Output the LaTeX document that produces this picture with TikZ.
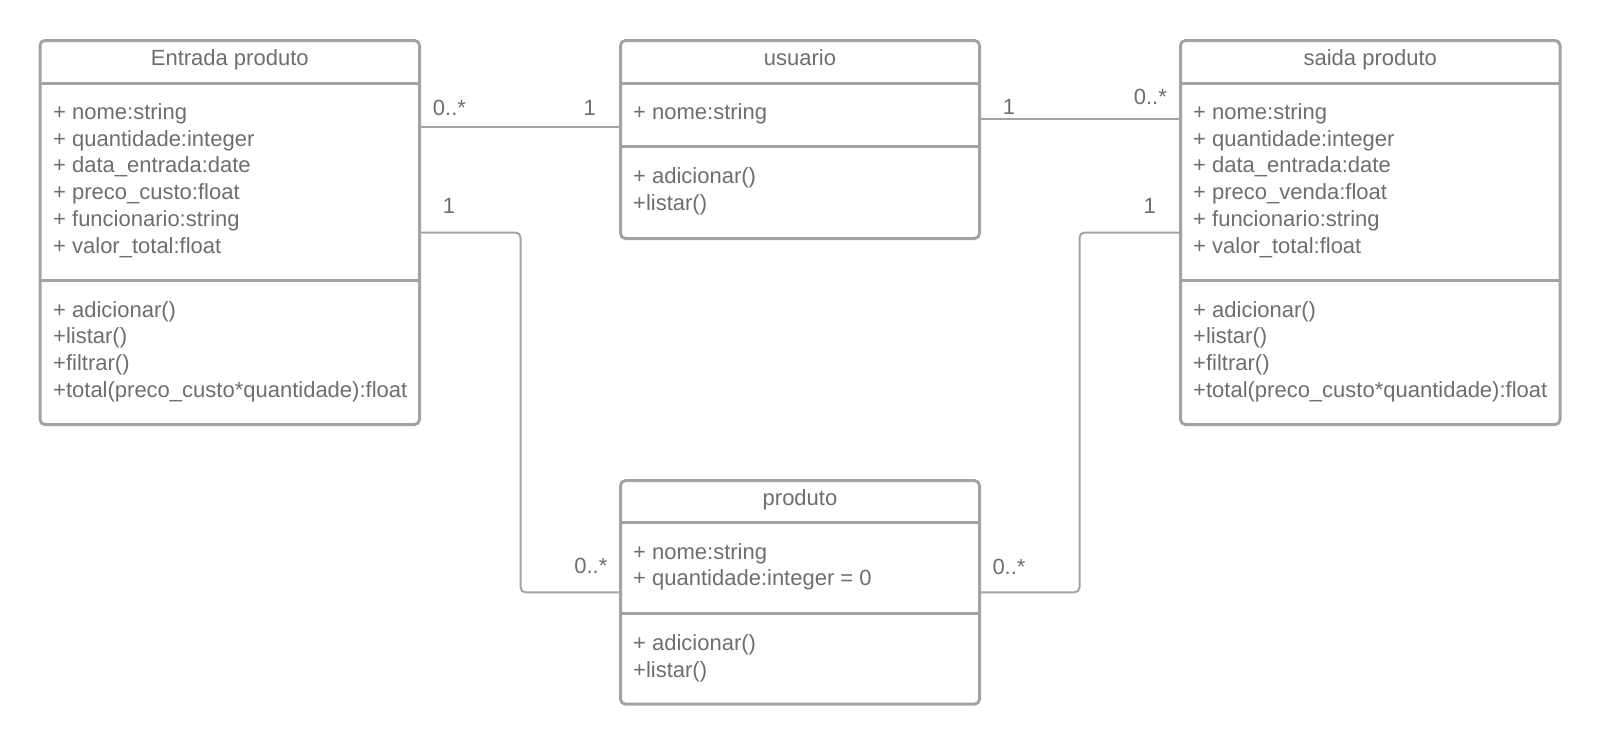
\documentclass[tikz,border=0pt]{standalone}
\usepackage{fontspec}
\setmainfont{Liberation Sans}
\usetikzlibrary{positioning, calc}
\definecolor{umlline}{RGB}{163,163,163}
\definecolor{umltext}{RGB}{110,110,110}

\begin{document}
\begin{tikzpicture}[
    x=1pt, y=-1pt,
    classbox/.style={rectangle, draw=umlline, line width=3pt, rounded corners=5pt, anchor=north west, inner sep=0pt, outer sep=0pt},
    divider/.style={draw=umlline, line width=3pt},
    classname/.style={anchor=base, text=umltext, font=\fontsize{22}{26.7}\selectfont, inner sep=0pt},
    members/.style={anchor=base west, align=left, text=umltext, font=\fontsize{22}{26.7}\selectfont, inner sep=0pt},
    mult/.style={anchor=base, text=umltext, font=\fontsize{22}{26.7}\selectfont, inner sep=0pt},
    assoc/.style={draw=umlline, line width=2pt, rounded corners=5pt}
]
\useasboundingbox (0,0) rectangle (1600,744);

% Class boxes
\node[classbox, minimum width=379.5pt, minimum height=384pt] (entrada) at (40,40.5) {};
\node[classbox, minimum width=359pt, minimum height=198pt] (usuario) at (620.5,40.5) {};
\node[classbox, minimum width=379.5pt, minimum height=384pt] (saida) at (1180.5,40.5) {};
\node[classbox, minimum width=359pt, minimum height=223.5pt] (produto) at (620.5,480.6) {};

% Compartments
\draw[divider] (40,83) -- (419.5,83);
\draw[divider] (40,280.5) -- (419.5,280.5);
\draw[divider] (620.5,83) -- (979.5,83);
\draw[divider] (620.5,146.7) -- (979.5,146.7);
\draw[divider] (1180.5,83) -- (1560,83);
\draw[divider] (1180.5,280.5) -- (1560,280.5);
\draw[divider] (620.5,522.4) -- (979.5,522.4);
\draw[divider] (620.5,613.8) -- (979.5,613.8);

% Entrada produto (member blocks sit on their last line)
\node[classname] (entrada-name) at (229.75,65.5) {Entrada produto};
\node[members] (entrada-attr) at (53,253) {+ nome:string\\+ quantidade:integer\\+ data\_entrada:date\\+ preco\_custo:float\\+ funcionario:string\\+ valor\_total:float};
\node[members] (entrada-ops) at (53,397.1) {+ adicionar()\\+listar()\\+filtrar()\\+total(preco\_custo*quantidade):float};

% usuario
\node[classname] (usuario-name) at (800,65.5) {usuario};
\node[members] (usuario-attr) at (633,119.5) {+ nome:string};
\node[members] (usuario-ops) at (633,210) {+ adicionar()\\+listar()};

% saida produto
\node[classname] (saida-name) at (1370.25,65.5) {saida produto};
\node[members] (saida-attr) at (1193,253) {+ nome:string\\+ quantidade:integer\\+ data\_entrada:date\\+ preco\_venda:float\\+ funcionario:string\\+ valor\_total:float};
\node[members] (saida-ops) at (1193,397.1) {+ adicionar()\\+listar()\\+filtrar()\\+total(preco\_custo*quantidade):float};

% produto
\node[classname] (produto-name) at (800,505.2) {produto};
\node[members] (produto-attr) at (633,585.9) {+ nome:string\\+ quantidade:integer = 0};
\node[members] (produto-ops) at (633,677) {+ adicionar()\\+listar()};

% Associations
\draw[assoc] (entrada.east |- 0,127) -- (usuario.west |- 0,127);
\draw[assoc] (usuario.east |- 0,119) -- (saida.west |- 0,119);
\draw[assoc] (entrada.east) -| (520.5,0 |- produto.west) -- (produto.west);
\draw[assoc] (saida.west) -| (1079.5,0 |- produto.east) -- (produto.east);

% Multiplicities
\node[mult] (m-entrada-u) at (449.5,115) {0..*};
\node[mult] (m-usuario-e) at (589.8,115) {1};
\node[mult] (m-usuario-s) at (1009,114.8) {1};
\node[mult] (m-saida-u) at (1150.3,104.8) {0..*};
\node[mult] (m-entrada-p) at (449,213.6) {1};
\node[mult] (m-produto-e) at (590.8,573.5) {0..*};
\node[mult] (m-saida-p) at (1149.8,213.6) {1};
\node[mult] (m-produto-s) at (1009,574.5) {0..*};

\end{tikzpicture}
\end{document}
